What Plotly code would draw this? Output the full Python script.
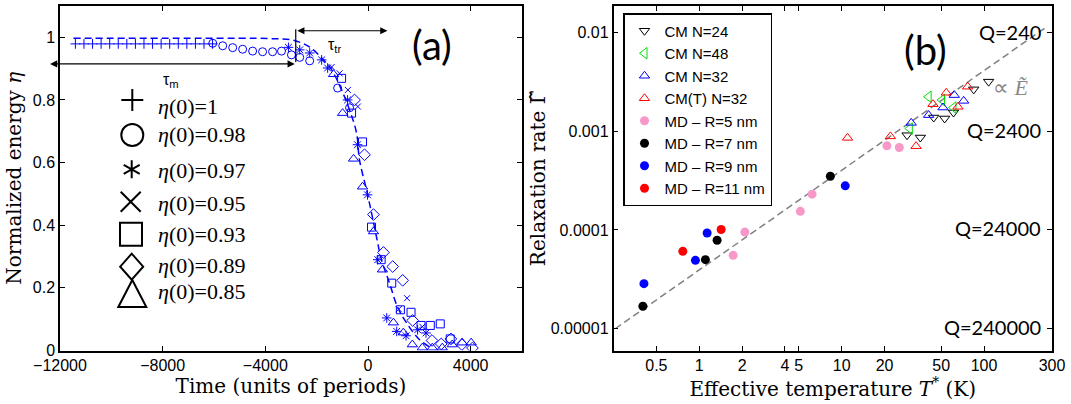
import plotly.graph_objects as go
import math

# ---------------- Panel (a): normalized energy vs time ----------------
plus_t = [-11400, -11066, -10732, -10398, -10064, -9730, -9396, -9062, -8728,
          -8394, -8060, -7726, -7392, -7058, -6724, -6390, -6056]
plus_eta = [0.979] * 17

circ_t = [-6050, -5660, -5272, -4884, -4495, -4107, -3719, -3370, -2982, -2660, -2272, -1184, -718]
circ_eta = [0.981, 0.973, 0.967, 0.962, 0.956, 0.954, 0.954, 0.956, 0.944, 0.936, 0.925, 0.838, 0.775]

star_t = [-3100, -2660, -2272, -1806, -1573, -796, -408, -19, 381, 730, 1118, 1483, 1934, 2260]
star_eta = [0.968, 0.960, 0.950, 0.928, 0.902, 0.800, 0.657, 0.497, 0.290, 0.104, 0.061, 0.047, 0.066, 0.056]

x_t = [-1417, -1107, -784, -396, 1196, 1522, 2116]
x_eta = [0.905, 0.885, 0.832, 0.779, 0.132, 0.167, 0.076]

sq_t = [-1029, -640, -213, 136, 512, 924, 1262, 1677, 2066, 2427, 2815, 3203]
sq_eta = [0.869, 0.758, 0.666, 0.394, 0.290, 0.215, 0.130, 0.122, 0.080, 0.080, 0.085, 0.037]

dia_t = [-524, -136, 213, 602, 963, 1351, 1740, 2493, 2854, 3230, 3658, 4070]
dia_eta = [0.800, 0.625, 0.434, 0.313, 0.268, 0.224, 0.096, 0.032, 0.021, 0.037, 0.019, 0.008]

tri_t = [-1340, -990, -563, -213, 213, 563, 990, 1378, 1728, 2116, 2505, 2893, 3281, 3669, 4019]
tri_eta = [0.882, 0.758, 0.612, 0.523, 0.380, 0.258, 0.089, 0.057, 0.019, 0.009, 0.009, 0.009, 0.019, 0.025, 0.025]

fit_t = [-11474, -6543, -3825, -2932, -2272, -1806, -1417, -1029, -718, -447, -330, -58,
         136, 330, 524, 835, 1145, 1495, 2000, 2388]
fit_eta = [0.997, 0.997, 0.996, 0.991, 0.969, 0.934, 0.896, 0.832, 0.768, 0.695, 0.608, 0.513,
           0.440, 0.363, 0.290, 0.216, 0.140, 0.089, 0.035, 0.012]

a_xticks = [-12000, -8000, -4000, 0, 4000]
a_xtext = ["−12000", "−8000", "−4000", "0", "4000"]
a_yticks = [0, 0.2, 0.4, 0.6, 0.8, 1]
a_ytext = ["0", "0.2", "0.4", "0.6", "0.8", "1"]
a_legend_labels = ["<i>η</i>(0)=1", "<i>η</i>(0)=0.98", "<i>η</i>(0)=0.97", "<i>η</i>(0)=0.95",
                   "<i>η</i>(0)=0.93", "<i>η</i>(0)=0.89", "<i>η</i>(0)=0.85"]

# annotation positions (time, eta) for the tau arrows
tau_m_arrow_t = [-12445, -2854]
tau_m_arrow_eta = 0.915
tau_tr_arrow_t = [-2815, 757]
tau_tr_arrow_eta = 1.021
tau_bar_t = -2815
tau_bar_eta = [0.921, 1.026]

# ---------------- Panel (b): relaxation rate vs effective temperature ----------------
cm24_T = [28.8, 35.7, 44.3, 52.9, 61.0, 84.6, 107.7]
cm24_G = [9.08e-4, 8.6e-4, 1.37e-3, 1.34e-3, 1.54e-3, 2.64e-3, 3.16e-3]

cm48_T = [30.1, 40.8, 50.7, 61.0]
cm48_G = [1.06e-3, 2.22e-3, 2.06e-3, 1.73e-3]

cm32_T = [30.8, 40.8, 51.5, 61.8, 71.9]
cm32_G = [1.21e-3, 1.45e-3, 1.73e-3, 2.31e-3, 2.02e-3]

cmT32_T = [11.0, 22.0, 33.3, 43.8, 54.3, 65.6, 76.7]
cmT32_G = [8.53e-4, 8.83e-4, 7.03e-4, 1.87e-3, 2.44e-3, 1.76e-3, 2.81e-3]

md5_T = [1.73, 2.09, 5.13, 6.2, 20.8, 25.4]
md5_G = [5.53e-5, 9.5e-5, 1.54e-4, 2.30e-4, 7.08e-4, 6.82e-4]

md7_T = [0.402, 1.105, 1.335, 8.33]
md7_G = [1.69e-5, 5.0e-5, 7.85e-5, 3.49e-4]

md9_T = [0.409, 0.94, 1.136, 10.6]
md9_G = [2.86e-5, 4.92e-5, 9.3e-5, 2.79e-4]

md11_T = [0.767, 1.425]
md11_G = [6.07e-5, 1.01e-4]

ref_T = [0.257, 267]
ref_G = [1.0e-5, 1.1e-2]

b_xticks = [0.5, 1, 2, 4, 5, 10, 20, 50, 100, 300]
b_xtext = ["0.5", "1", "2", "4", "5", "10", "20", "50", "100", "300"]
b_yticks = [1e-5, 1e-4, 1e-3, 1e-2]
b_ytext = ["0.00001", "0.0001", "0.001", "0.01"]
q_labels = ["Q=240", "Q=2400", "Q=24000", "Q=240000"]

# ---------------- figure ----------------
W, H = 1071, 404
BLUE = "#0000ff"
fig = go.Figure()

def a_trace(t, e, sym, size):
    fig.add_trace(go.Scatter(x=t, y=e, mode="markers", xaxis="x", yaxis="y", showlegend=False,
                             marker=dict(symbol=sym, size=size, color=BLUE,
                                         line=dict(color=BLUE, width=1))))

fig.add_trace(go.Scatter(x=fit_t, y=fit_eta, mode="lines", xaxis="x", yaxis="y", showlegend=False,
                         line=dict(color=BLUE, width=1.5, dash="7px,4px"), line_shape="spline"))
a_trace(plus_t, plus_eta, "cross-thin-open", 7)
a_trace(circ_t, circ_eta, "circle-open", 8)
a_trace(star_t, star_eta, "asterisk-open", 8)
a_trace(x_t, x_eta, "x-thin-open", 6)
a_trace(sq_t, sq_eta, "square-open", 8)
a_trace(dia_t, dia_eta, "diamond-open", 9)
a_trace(tri_t, tri_eta, "triangle-up-open", 9)

# panel (b)
fig.add_trace(go.Scatter(x=ref_T, y=ref_G, mode="lines", xaxis="x2", yaxis="y2", showlegend=False,
                         line=dict(color="#808080", width=1.5, dash="7px,4px")))

def b_trace(T, G, name, sym, color, size, filled=False):
    fig.add_trace(go.Scatter(x=T, y=G, mode="markers", xaxis="x2", yaxis="y2", name=name,
                             marker=dict(symbol=sym, size=size, color=color,
                                         line=dict(color=color, width=1 if not filled else 0))))

b_trace(cm24_T, cm24_G, "CM N=24", "triangle-down-open", "black", 9)
b_trace(cm48_T, cm48_G, "CM N=48", "triangle-left-open", "#00e000", 10)
b_trace(cm32_T, cm32_G, "CM N=32", "triangle-up-open", BLUE, 9)
b_trace(cmT32_T, cmT32_G, "CM(T) N=32", "triangle-up-open", "#ff0000", 9)
b_trace(md5_T, md5_G, "MD – R=5 nm", "circle", "#f798c8", 9, True)
b_trace(md7_T, md7_G, "MD – R=7 nm", "circle", "black", 9, True)
b_trace(md9_T, md9_G, "MD – R=9 nm", "circle", BLUE, 9, True)
b_trace(md11_T, md11_G, "MD – R=11 nm", "circle", "#ff0000", 9, True)

# axes geometry (pixels)
ax_l, ax_r = 60, 522
bx_l, bx_r = 613.5, 1052
y_top, y_bot = 6, 350.5
ydom = [(H - y_bot) / H, (H - y_top) / H]

tickfont = dict(family="Liberation Sans, Arial, sans-serif", size=16, color="black")
titlefont = dict(family="DejaVu Serif, Liberation Serif, serif", size=20, color="black")
common = dict(showline=True, linecolor="black", linewidth=1.5, mirror="ticks", ticks="inside",
              ticklen=5, tickwidth=1, tickcolor="black", showgrid=False, zeroline=False,
              tickfont=tickfont)

fig.update_layout(
    width=W, height=H, template="none",
    margin=dict(l=0, r=0, t=0, b=0),
    paper_bgcolor="white", plot_bgcolor="white",
    xaxis=dict(domain=[ax_l / W, ax_r / W], range=[-12000, 6000], tickvals=a_xticks, ticktext=a_xtext,
               title=dict(text="Time (units of periods)", font=titlefont, standoff=2), anchor="y",
               **common),
    yaxis=dict(domain=ydom, range=[0, 1.1], tickvals=a_yticks, ticktext=a_ytext, anchor="x",
               title=dict(text="Normalized energy <i>η</i>", font=titlefont, standoff=6), **common),
    xaxis2=dict(domain=[bx_l / W, bx_r / W], type="log", range=[math.log10(0.25), math.log10(300)],
                tickvals=b_xticks, ticktext=b_xtext, anchor="y2",
                title=dict(text="Effective temperature <i>T</i><sup>*</sup> (K)", font=titlefont, standoff=0),
                **common),
    yaxis2=dict(domain=ydom, type="log", range=[-5.22, -1.735], tickvals=b_yticks, ticktext=b_ytext,
                anchor="x2",
                title=dict(text="Relaxation rate Γ̃", font=titlefont, standoff=0), **common),
    legend=dict(x=623 / W, y=(H - 13) / H, xanchor="left", yanchor="top", bgcolor="white",
                bordercolor="black", borderwidth=1.5, tracegroupgap=0,
                font=dict(family="Liberation Sans, Arial, sans-serif", size=15, color="black")),
    showlegend=True,
)

def px(xp, yp):
    return xp / W, (H - yp) / H

def text_ann(xp, yp, text, font, xanchor="center"):
    x, y = px(xp, yp)
    return dict(x=x, y=y, xref="paper", yref="paper", text=text, showarrow=False,
                xanchor=xanchor, yanchor="middle", font=font)

ann = []
big = dict(family="Lato, Open Sans, sans-serif", size=40, color="black")
ann.append(text_ann(432, 45, "(a)", big))
ann.append(text_ann(925, 50, "(b)", big))
qfont = dict(family="Lato, Open Sans, sans-serif", size=20, color="black")
for lab, yp in zip(q_labels, [32, 130, 228, 327]):
    ann.append(text_ann(1043, yp, lab, qfont, xanchor="right"))
ann.append(text_ann(1011, 88, "∝ <i>Ẽ</i>", dict(family="Liberation Serif, serif", size=22, color="#888888")))
lfont = dict(family="Liberation Serif, Times New Roman, serif", size=22, color="black")
for lab, yp in zip(a_legend_labels, [106.7, 135, 170, 203.3, 234, 265.7, 291.7]):
    ann.append(text_ann(156, yp, lab, lfont, xanchor="left"))
tfont = dict(family="Liberation Sans, Arial, sans-serif", size=16, color="black")
ann.append(text_ann(171, 81, "τ<sub>m</sub>", tfont))
ann.append(text_ann(334, 46, "τ<sub>tr</sub>", tfont))
# double arrows
for (t0, t1), e in [(tau_m_arrow_t, tau_m_arrow_eta), (tau_tr_arrow_t, tau_tr_arrow_eta)]:
    ann.append(dict(x=t1, y=e, ax=t0, ay=e, xref="x", yref="y", axref="x", ayref="y", text="",
                    showarrow=True, arrowhead=2, arrowside="end+start", arrowsize=1.2,
                    arrowwidth=1.2, arrowcolor="black"))
fig.update_layout(annotations=ann)

# shapes: tau bar and panel (a) legend symbols
shapes = [dict(type="line", xref="x", yref="y", x0=tau_bar_t, x1=tau_bar_t,
               y0=tau_bar_eta[0], y1=tau_bar_eta[1], line=dict(color="black", width=1.2))]

def sym_shape(xp, yp, kind, path=None, r=None):
    ax_, ay_ = px(xp, yp)
    d = dict(xref="paper", yref="paper", xsizemode="pixel", ysizemode="pixel",
             xanchor=ax_, yanchor=ay_, line=dict(color="black", width=2))
    if kind == "path":
        d.update(type="path", path=path)
    elif kind == "circle":
        d.update(type="circle", x0=-r[0], x1=r[0], y0=-r[1], y1=r[1])
    elif kind == "rect":
        d.update(type="rect", x0=-r[0], x1=r[0], y0=-r[1], y1=r[1])
    return d

shapes.append(sym_shape(132.3, 100, "path", path="M-11,0 L11,0 M0,-11 L0,11"))
shapes.append(sym_shape(132.3, 135, "circle", r=(11, 11)))
shapes.append(sym_shape(131.7, 169.3, "path", path="M0,-9 L0,9 M-8,-4.5 L8,4.5 M-8,4.5 L8,-4.5"))
shapes.append(sym_shape(130.7, 201.7, "path", path="M-10,-10 L10,10 M-10,10 L10,-10"))
shapes.append(sym_shape(131, 234.3, "rect", r=(11, 11.5)))
shapes.append(sym_shape(131.7, 266.7, "path", path="M0,-13 L11.5,0 L0,13 L-11.5,0 Z"))
shapes.append(sym_shape(132.3, 294, "path", path="M-14,-13 L14,-13 L0,14 Z"))
fig.update_layout(shapes=shapes)

fig.write_html("out.html")
